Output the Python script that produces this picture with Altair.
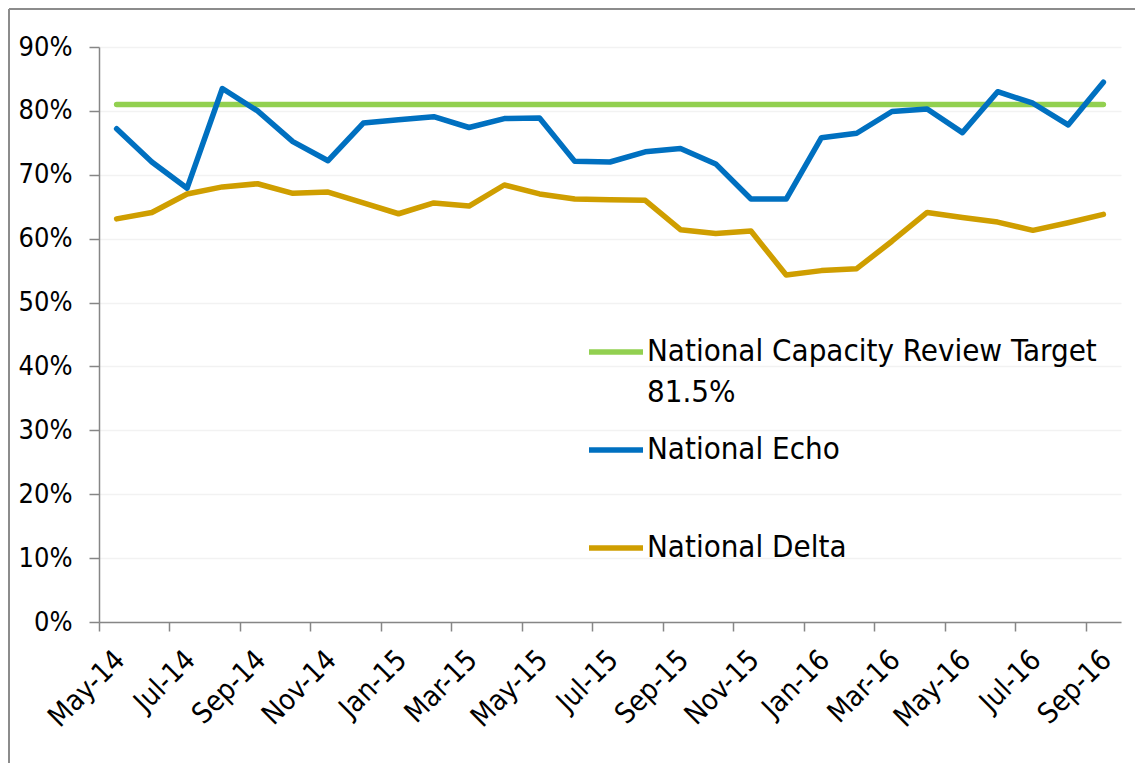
import altair as alt
import pandas as pd

months = ["May-14", "Jun-14", "Jul-14", "Aug-14", "Sep-14", "Oct-14", "Nov-14", "Dec-14",
          "Jan-15", "Feb-15", "Mar-15", "Apr-15", "May-15", "Jun-15", "Jul-15", "Aug-15",
          "Sep-15", "Oct-15", "Nov-15", "Dec-15", "Jan-16", "Feb-16", "Mar-16", "Apr-16",
          "May-16", "Jun-16", "Jul-16", "Aug-16", "Sep-16"]

target = [81.0, 81.0, 81.0, 81.0, 81.0, 81.0, 81.0, 81.0, 81.0, 81.0, 81.0, 81.0, 81.0, 81.0, 81.0,
          81.0, 81.0, 81.0, 81.0, 81.0, 81.0, 81.0, 81.0, 81.0, 81.0, 81.0, 81.0, 81.0, 81.0]

echo = [77.2, 72.0, 67.9, 83.5, 80.0, 75.2, 72.2, 78.1, 78.6, 79.1, 77.4, 78.8, 78.9, 72.1, 72.0,
        73.6, 74.1, 71.7, 66.2, 66.2, 75.8, 76.5, 79.9, 80.3, 76.6, 83.0, 81.2, 77.8, 84.5]

delta = [63.1, 64.1, 67.0, 68.1, 68.6, 67.1, 67.3, 65.6, 63.9, 65.6, 65.1, 68.4, 67.0, 66.2, 66.1,
         66.0, 61.4, 60.8, 61.2, 54.3, 55.0, 55.3, 59.6, 64.1, 63.3, 62.6, 61.3, 62.5, 63.8]

series_names = ["National Capacity Review Target 81.5%", "National Echo", "National Delta"]
series_colors = ["#92D050", "#0070C0", "#CF9E00"]
y_ticks = [0, 10, 20, 30, 40, 50, 60, 70, 80, 90]
x_label_months = months[::2]

rows = []
for name, vals in zip(series_names, [target, echo, delta]):
    for m, v in zip(months, vals):
        rows.append({"month": m, "value": v, "series": name})
df = pd.DataFrame(rows)

FONT = "DejaVu Sans Condensed, DejaVu Sans, sans-serif"
W, H = 1022, 575
step = W / len(months)

label_expr = ("datum.label == 'National Capacity Review Target 81.5%' ? "
              "['National Capacity Review Target', '81.5%'] : [datum.label, '']")

lines = alt.Chart(df).mark_line(strokeWidth=5.5, strokeCap="round", strokeJoin="round").encode(
    x=alt.X("month:O", sort=months, scale=alt.Scale(type="point", padding=0.5),
            axis=alt.Axis(title=None, values=x_label_months, labelAngle=-45, labelAlign="right",
                          labelBaseline="top", tickOffset=-step / 2, labelOffset=step / 2 - 7,
                          tickSize=9, labelPadding=14, labelOverlap=False, labelBound=False,
                          labelFontSize=28.5, grid=False)),
    y=alt.Y("value:Q", scale=alt.Scale(domain=[0, 90], nice=False, zero=True),
            axis=alt.Axis(title=None, values=y_ticks, labelExpr="datum.value + '%'",
                          tickSize=10, labelPadding=17, grid=True, gridColor="#F2F2F2",
                          gridWidth=1.5)),
    color=alt.Color("series:N", sort=series_names,
                    scale=alt.Scale(domain=series_names, range=series_colors),
                    legend=alt.Legend(title=None, orient="none", legendX=487, legendY=275,
                                      labelExpr=label_expr, labelFont=FONT, labelFontSize=31,
                                      labelColor="#000000", labelLimit=1000, labelOffset=1,
                                      symbolType="stroke", symbolSize=2916, symbolStrokeWidth=5.5,
                                      rowPadding=12, padding=0)),
)

frame_df = pd.DataFrame({"k": [0]})
frame_left = alt.Chart(frame_df).mark_rule(color="#8C8C8C", strokeWidth=2).encode(
    x=alt.value(-90), y=alt.value(-38), y2=alt.value(720))
frame_top = alt.Chart(frame_df).mark_rule(color="#8C8C8C", strokeWidth=2).encode(
    x=alt.value(-90), x2=alt.value(1040), y=alt.value(-38))

chart = alt.layer(frame_left, frame_top, lines).properties(
    width=W, height=H,
    autosize=alt.AutoSizeParams(type="none"),
    padding={"left": 91, "top": 39, "right": 14, "bottom": 141},
).configure(
    style={"guide-label": {"lineHeight": 41}}
).configure_view(stroke=None).configure_axis(
    labelFont=FONT, labelFontSize=27, labelColor="#000000",
    domainColor="#868686", tickColor="#868686", domainWidth=1.5, tickWidth=1.5,
)

chart.save("out.html", embed_options={"renderer": "svg", "actions": False})
